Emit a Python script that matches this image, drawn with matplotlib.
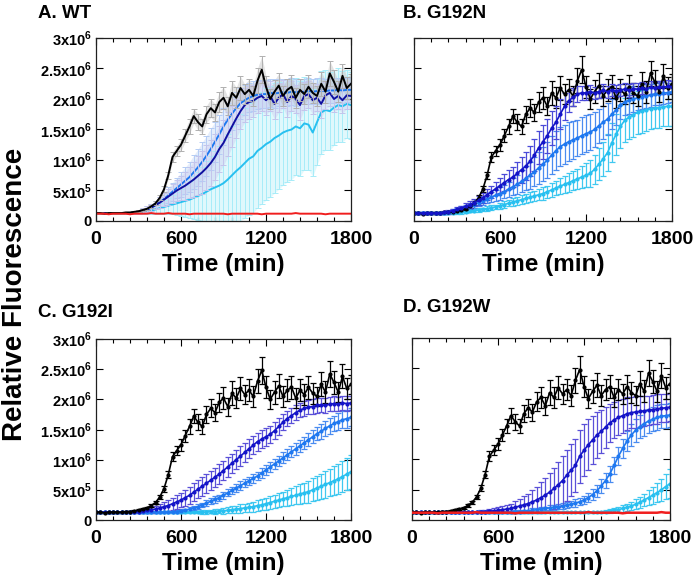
import numpy as np
import matplotlib.pyplot as plt
from matplotlib.ticker import MultipleLocator

plt.rcParams['font.family'] = ['Liberation Sans', 'DejaVu Sans']
plt.rcParams['font.weight'] = 'bold'
plt.rcParams['mathtext.fontset'] = 'custom'
plt.rcParams['mathtext.rm'] = 'Liberation Sans:bold'
plt.rcParams['mathtext.bf'] = 'Liberation Sans:bold'

# time axis (min), one reading every 30 min
time = np.arange(0, 1801, 30)

# fluorescence values in units of 1e6
wt = [0.13, 0.13, 0.12, 0.13, 0.13, 0.13, 0.13, 0.14, 0.14, 0.15,
      0.16, 0.18, 0.20, 0.24, 0.29, 0.38, 0.52, 0.75, 1.05, 1.15,
      1.25, 1.40, 1.55, 1.72, 1.62, 1.55, 1.75, 1.85, 1.78, 1.95,
      2.02, 1.88, 2.10, 2.02, 2.18, 2.08, 2.15, 2.05, 2.30, 2.48,
      2.20, 2.00, 2.12, 2.22, 2.05, 2.15, 2.20, 2.02, 2.15, 2.08,
      2.20, 2.10, 2.05, 2.25, 2.12, 2.42, 2.28, 2.12, 2.38, 2.18, 2.25]
wt_err = [0.01, 0.01, 0.01, 0.01, 0.01, 0.01, 0.01, 0.01, 0.01, 0.01,
          0.02, 0.02, 0.02, 0.03, 0.03, 0.04, 0.05, 0.06, 0.08, 0.08,
          0.10, 0.10, 0.12, 0.12, 0.13, 0.12, 0.14, 0.15, 0.14, 0.16,
          0.18, 0.15, 0.20, 0.17, 0.19, 0.16, 0.18, 0.17, 0.20, 0.22,
          0.18, 0.16, 0.19, 0.20, 0.17, 0.18, 0.19, 0.16, 0.18, 0.17,
          0.19, 0.17, 0.16, 0.20, 0.18, 0.21, 0.19, 0.17, 0.20, 0.18, 0.16]

# panel A
a_dark = [0.13, 0.13, 0.13, 0.13, 0.13, 0.13, 0.13, 0.13, 0.13, 0.14,
          0.15, 0.17, 0.19, 0.22, 0.26, 0.30, 0.35, 0.40, 0.45, 0.50,
          0.54, 0.58, 0.63, 0.68, 0.74, 0.80, 0.87, 0.95, 1.05, 1.18,
          1.28, 1.42, 1.55, 1.68, 1.80, 1.90, 1.95, 1.97, 2.02, 2.05,
          1.98, 2.05, 1.92, 2.02, 2.08, 1.95, 2.05, 2.00, 1.90, 2.05,
          2.08, 1.98, 2.02, 1.92, 2.06, 2.10, 2.00, 2.05, 1.98, 2.06, 2.05]
a_dark_err = [0.01, 0.01, 0.01, 0.01, 0.01, 0.01, 0.01, 0.01, 0.02, 0.02,
              0.03, 0.04, 0.05, 0.06, 0.07, 0.09, 0.11, 0.13, 0.15, 0.18,
              0.20, 0.23, 0.26, 0.29, 0.32, 0.35, 0.37, 0.38, 0.38, 0.38,
              0.37, 0.36, 0.34, 0.32, 0.30, 0.28, 0.27, 0.26, 0.25, 0.25,
              0.24, 0.24, 0.25, 0.24, 0.23, 0.24, 0.24, 0.23, 0.24, 0.23,
              0.22, 0.23, 0.22, 0.23, 0.22, 0.22, 0.21, 0.22, 0.21, 0.22, 0.21]
a_mid = [0.13, 0.13, 0.13, 0.13, 0.13, 0.13, 0.13, 0.13, 0.13, 0.14,
         0.15, 0.17, 0.19, 0.22, 0.26, 0.31, 0.36, 0.42, 0.48, 0.54,
         0.60, 0.66, 0.72, 0.80, 0.88, 0.97, 1.07, 1.18, 1.30, 1.42,
         1.55, 1.66, 1.76, 1.85, 1.93, 1.98, 2.02, 2.05, 2.07, 2.08,
         2.08, 2.10, 2.09, 2.10, 2.11, 2.10, 2.12, 2.11, 2.12, 2.12,
         2.13, 2.12, 2.13, 2.14, 2.13, 2.14, 2.14, 2.15, 2.14, 2.15, 2.15]
a_mid_err = [0.01, 0.01, 0.01, 0.01, 0.01, 0.01, 0.01, 0.01, 0.02, 0.02,
             0.03, 0.04, 0.05, 0.06, 0.07, 0.09, 0.11, 0.13, 0.15, 0.17,
             0.20, 0.22, 0.25, 0.28, 0.30, 0.32, 0.33, 0.34, 0.33, 0.32,
             0.30, 0.28, 0.27, 0.26, 0.25, 0.25, 0.24, 0.24, 0.24, 0.23,
             0.23, 0.23, 0.23, 0.22, 0.22, 0.22, 0.22, 0.22, 0.21, 0.21,
             0.21, 0.21, 0.21, 0.20, 0.20, 0.20, 0.20, 0.20, 0.20, 0.20, 0.20]
a_cyan = [0.13, 0.13, 0.13, 0.13, 0.13, 0.13, 0.13, 0.13, 0.13, 0.13,
          0.14, 0.15, 0.16, 0.17, 0.19, 0.21, 0.23, 0.25, 0.27, 0.29,
          0.31, 0.33, 0.35, 0.38, 0.41, 0.44, 0.48, 0.52, 0.55, 0.58,
          0.62, 0.68, 0.75, 0.82, 0.88, 0.95, 1.02, 1.06, 1.15, 1.20,
          1.26, 1.30, 1.36, 1.40, 1.45, 1.48, 1.50, 1.55, 1.52, 1.60,
          1.58, 1.45, 1.62, 1.78, 1.82, 1.80, 1.86, 1.90, 1.88, 1.92, 1.90]
a_cyan_err = [0.01, 0.01, 0.01, 0.01, 0.01, 0.01, 0.01, 0.01, 0.02, 0.02,
              0.03, 0.04, 0.05, 0.06, 0.07, 0.09, 0.11, 0.13, 0.16, 0.19,
              0.22, 0.26, 0.30, 0.35, 0.40, 0.45, 0.50, 0.55, 0.60, 0.65,
              0.70, 0.75, 0.80, 0.85, 0.88, 0.90, 0.92, 0.93, 0.93, 0.92,
              0.92, 0.91, 0.90, 0.88, 0.86, 0.84, 0.82, 0.80, 0.78, 0.76,
              0.74, 0.72, 0.70, 0.68, 0.66, 0.64, 0.62, 0.60, 0.58, 0.56, 0.55]
a_red = [0.12, 0.12, 0.12, 0.11, 0.12, 0.12, 0.12, 0.12, 0.11, 0.12,
         0.12, 0.12, 0.12, 0.13, 0.12, 0.12, 0.12, 0.13, 0.12, 0.12,
         0.12, 0.12, 0.11, 0.12, 0.12, 0.12, 0.12, 0.12, 0.12, 0.12,
         0.12, 0.11, 0.12, 0.12, 0.12, 0.12, 0.12, 0.12, 0.12, 0.11,
         0.12, 0.12, 0.12, 0.12, 0.12, 0.12, 0.12, 0.13, 0.12, 0.12,
         0.12, 0.12, 0.12, 0.12, 0.11, 0.12, 0.12, 0.12, 0.12, 0.12, 0.12]

# panel B
b_dark = [0.13, 0.13, 0.13, 0.13, 0.13, 0.13, 0.13, 0.14, 0.15, 0.17,
          0.19, 0.21, 0.24, 0.27, 0.30, 0.34, 0.38, 0.43, 0.48, 0.53,
          0.58, 0.63, 0.68, 0.72, 0.78, 0.84, 0.90, 0.98, 1.08, 1.20,
          1.30, 1.40, 1.52, 1.62, 1.75, 1.88, 1.97, 2.03, 2.08, 2.10,
          2.10, 2.12, 2.10, 2.12, 2.14, 2.12, 2.15, 2.13, 2.15, 2.16,
          2.14, 2.17, 2.16, 2.18, 2.17, 2.19, 2.18, 2.20, 2.19, 2.21, 2.20]
b_dark_err = [0.01, 0.01, 0.01, 0.01, 0.01, 0.01, 0.02, 0.02, 0.03, 0.03,
              0.04, 0.04, 0.05, 0.05, 0.06, 0.07, 0.08, 0.09, 0.10, 0.11,
              0.12, 0.14, 0.15, 0.17, 0.19, 0.21, 0.23, 0.25, 0.26, 0.27,
              0.28, 0.28, 0.28, 0.27, 0.25, 0.22, 0.18, 0.15, 0.13, 0.12,
              0.11, 0.11, 0.10, 0.10, 0.10, 0.10, 0.10, 0.10, 0.10, 0.10,
              0.10, 0.10, 0.10, 0.10, 0.10, 0.10, 0.10, 0.10, 0.10, 0.10, 0.10]
b_mid = [0.13, 0.13, 0.13, 0.13, 0.13, 0.13, 0.13, 0.13, 0.14, 0.16,
         0.18, 0.20, 0.22, 0.25, 0.27, 0.30, 0.33, 0.36, 0.39, 0.42,
         0.45, 0.48, 0.52, 0.56, 0.60, 0.65, 0.70, 0.75, 0.81, 0.87,
         0.93, 1.00, 1.08, 1.15, 1.22, 1.26, 1.30, 1.33, 1.36, 1.40,
         1.43, 1.46, 1.50, 1.56, 1.62, 1.67, 1.75, 1.82, 1.90, 1.95,
         1.98, 2.00, 2.02, 2.04, 2.05, 2.06, 2.08, 2.08, 2.10, 2.10, 2.12]
b_mid_err = [0.01, 0.01, 0.01, 0.01, 0.01, 0.01, 0.01, 0.02, 0.02, 0.03,
             0.03, 0.04, 0.04, 0.05, 0.05, 0.06, 0.06, 0.07, 0.08, 0.09,
             0.10, 0.11, 0.12, 0.14, 0.16, 0.18, 0.20, 0.22, 0.24, 0.26,
             0.28, 0.30, 0.31, 0.32, 0.32, 0.32, 0.32, 0.31, 0.30, 0.30,
             0.30, 0.29, 0.28, 0.28, 0.27, 0.26, 0.25, 0.24, 0.23, 0.22,
             0.22, 0.21, 0.20, 0.20, 0.19, 0.19, 0.18, 0.18, 0.18, 0.17, 0.17]
b_cyan = [0.13, 0.13, 0.13, 0.13, 0.13, 0.13, 0.13, 0.13, 0.13, 0.13,
          0.14, 0.14, 0.15, 0.16, 0.17, 0.18, 0.19, 0.20, 0.22, 0.23,
          0.25, 0.27, 0.29, 0.31, 0.33, 0.35, 0.37, 0.39, 0.41, 0.43,
          0.45, 0.48, 0.51, 0.54, 0.57, 0.60, 0.63, 0.66, 0.69, 0.72,
          0.75, 0.78, 0.85, 0.93, 1.02, 1.12, 1.28, 1.42, 1.55, 1.65,
          1.70, 1.74, 1.78, 1.80, 1.82, 1.84, 1.85, 1.86, 1.87, 1.88, 1.88]
b_cyan_err = [0.01, 0.01, 0.01, 0.01, 0.01, 0.01, 0.01, 0.01, 0.01, 0.01,
              0.02, 0.02, 0.02, 0.02, 0.03, 0.03, 0.03, 0.04, 0.04, 0.04,
              0.05, 0.05, 0.05, 0.06, 0.06, 0.07, 0.07, 0.08, 0.08, 0.09,
              0.10, 0.10, 0.11, 0.12, 0.13, 0.14, 0.15, 0.16, 0.17, 0.18,
              0.20, 0.22, 0.24, 0.26, 0.28, 0.30, 0.32, 0.34, 0.35, 0.36,
              0.36, 0.36, 0.35, 0.35, 0.34, 0.34, 0.33, 0.33, 0.32, 0.32, 0.32]

# panel C
c_dark = [0.13, 0.13, 0.13, 0.13, 0.13, 0.13, 0.13, 0.13, 0.13, 0.13,
          0.14, 0.15, 0.16, 0.17, 0.18, 0.20, 0.22, 0.24, 0.27, 0.30,
          0.33, 0.37, 0.41, 0.46, 0.51, 0.56, 0.61, 0.66, 0.71, 0.76,
          0.82, 0.88, 0.94, 1.00, 1.06, 1.12, 1.18, 1.24, 1.30, 1.34,
          1.38, 1.42, 1.48, 1.55, 1.62, 1.68, 1.73, 1.78, 1.82, 1.85,
          1.87, 1.88, 1.90, 1.91, 1.90, 1.92, 1.93, 1.92, 1.94, 1.93, 1.94]
c_dark_err = [0.01, 0.01, 0.01, 0.01, 0.01, 0.01, 0.01, 0.01, 0.02, 0.02,
              0.03, 0.03, 0.04, 0.05, 0.06, 0.07, 0.08, 0.09, 0.10, 0.11,
              0.12, 0.13, 0.14, 0.15, 0.15, 0.16, 0.16, 0.16, 0.16, 0.16,
              0.16, 0.16, 0.16, 0.16, 0.16, 0.16, 0.16, 0.15, 0.15, 0.15,
              0.15, 0.14, 0.14, 0.14, 0.13, 0.13, 0.13, 0.12, 0.12, 0.12,
              0.12, 0.12, 0.12, 0.12, 0.12, 0.12, 0.12, 0.12, 0.12, 0.12, 0.12]
c_mid = [0.13, 0.13, 0.13, 0.13, 0.13, 0.13, 0.13, 0.13, 0.13, 0.13,
         0.13, 0.13, 0.13, 0.13, 0.13, 0.13, 0.13, 0.13, 0.13, 0.14,
         0.15, 0.16, 0.18, 0.20, 0.22, 0.25, 0.28, 0.31, 0.34, 0.37,
         0.41, 0.45, 0.49, 0.53, 0.57, 0.61, 0.65, 0.69, 0.73, 0.78,
         0.83, 0.88, 0.93, 0.98, 1.03, 1.08, 1.13, 1.18, 1.23, 1.28,
         1.33, 1.38, 1.43, 1.47, 1.52, 1.56, 1.60, 1.63, 1.66, 1.68, 1.70]
c_mid_err = [0.01, 0.01, 0.01, 0.01, 0.01, 0.01, 0.01, 0.01, 0.01, 0.01,
             0.01, 0.01, 0.01, 0.01, 0.01, 0.01, 0.02, 0.02, 0.02, 0.02,
             0.03, 0.03, 0.03, 0.04, 0.04, 0.04, 0.05, 0.05, 0.05, 0.05,
             0.06, 0.06, 0.06, 0.06, 0.07, 0.07, 0.07, 0.07, 0.07, 0.08,
             0.08, 0.08, 0.08, 0.08, 0.09, 0.09, 0.09, 0.10, 0.10, 0.10,
             0.11, 0.11, 0.11, 0.12, 0.12, 0.13, 0.13, 0.14, 0.14, 0.15, 0.15]
c_cyan = [0.13, 0.13, 0.13, 0.13, 0.13, 0.13, 0.13, 0.13, 0.13, 0.13,
          0.13, 0.13, 0.13, 0.13, 0.13, 0.13, 0.13, 0.13, 0.13, 0.13,
          0.13, 0.13, 0.13, 0.13, 0.13, 0.13, 0.13, 0.14, 0.14, 0.15,
          0.15, 0.16, 0.17, 0.18, 0.19, 0.20, 0.21, 0.22, 0.24, 0.25,
          0.27, 0.29, 0.31, 0.33, 0.35, 0.37, 0.39, 0.41, 0.43, 0.45,
          0.47, 0.50, 0.53, 0.56, 0.59, 0.62, 0.65, 0.68, 0.72, 0.76, 0.80]
c_cyan_err = [0.01, 0.01, 0.01, 0.01, 0.01, 0.01, 0.01, 0.01, 0.01, 0.01,
              0.01, 0.01, 0.01, 0.01, 0.01, 0.01, 0.01, 0.01, 0.01, 0.01,
              0.02, 0.02, 0.02, 0.02, 0.02, 0.03, 0.03, 0.03, 0.04, 0.04,
              0.05, 0.05, 0.06, 0.06, 0.07, 0.07, 0.08, 0.08, 0.09, 0.09,
              0.10, 0.10, 0.11, 0.11, 0.12, 0.13, 0.14, 0.15, 0.16, 0.17,
              0.18, 0.19, 0.20, 0.21, 0.22, 0.23, 0.24, 0.25, 0.26, 0.27, 0.28]

# panel D
d_dark = [0.13, 0.13, 0.13, 0.13, 0.13, 0.13, 0.13, 0.13, 0.13, 0.13,
          0.13, 0.13, 0.13, 0.13, 0.13, 0.13, 0.14, 0.14, 0.15, 0.15,
          0.16, 0.17, 0.18, 0.19, 0.21, 0.23, 0.25, 0.27, 0.30, 0.33,
          0.37, 0.41, 0.46, 0.52, 0.58, 0.65, 0.74, 0.82, 0.90, 1.05,
          1.15, 1.24, 1.32, 1.40, 1.46, 1.53, 1.60, 1.65, 1.69, 1.72,
          1.75, 1.77, 1.78, 1.79, 1.80, 1.81, 1.82, 1.83, 1.84, 1.85, 1.86]
d_dark_err = [0.01, 0.01, 0.01, 0.01, 0.01, 0.01, 0.01, 0.01, 0.01, 0.01,
              0.01, 0.01, 0.01, 0.01, 0.01, 0.02, 0.02, 0.03, 0.03, 0.04,
              0.05, 0.06, 0.07, 0.08, 0.10, 0.12, 0.14, 0.16, 0.19, 0.22,
              0.25, 0.28, 0.31, 0.34, 0.37, 0.40, 0.42, 0.43, 0.44, 0.44,
              0.43, 0.42, 0.40, 0.38, 0.36, 0.34, 0.32, 0.30, 0.29, 0.28,
              0.27, 0.26, 0.26, 0.25, 0.25, 0.24, 0.24, 0.24, 0.23, 0.23, 0.23]
d_mid = [0.13, 0.13, 0.13, 0.13, 0.13, 0.13, 0.13, 0.13, 0.13, 0.13,
         0.13, 0.13, 0.13, 0.13, 0.13, 0.13, 0.13, 0.13, 0.13, 0.13,
         0.13, 0.13, 0.13, 0.13, 0.14, 0.14, 0.15, 0.15, 0.16, 0.17,
         0.18, 0.19, 0.20, 0.21, 0.22, 0.23, 0.25, 0.26, 0.28, 0.30,
         0.33, 0.37, 0.42, 0.48, 0.56, 0.65, 0.76, 0.90, 1.05, 1.18,
         1.30, 1.40, 1.48, 1.54, 1.59, 1.63, 1.66, 1.69, 1.71, 1.72, 1.73]
d_mid_err = [0.01, 0.01, 0.01, 0.01, 0.01, 0.01, 0.01, 0.01, 0.01, 0.01,
             0.01, 0.01, 0.01, 0.01, 0.01, 0.01, 0.01, 0.01, 0.01, 0.01,
             0.01, 0.01, 0.02, 0.02, 0.02, 0.02, 0.02, 0.02, 0.03, 0.03,
             0.03, 0.03, 0.04, 0.04, 0.04, 0.05, 0.05, 0.05, 0.06, 0.06,
             0.07, 0.08, 0.09, 0.10, 0.11, 0.12, 0.13, 0.14, 0.15, 0.16,
             0.17, 0.18, 0.19, 0.19, 0.20, 0.20, 0.20, 0.20, 0.20, 0.20, 0.20]
d_cyan = [0.13, 0.13, 0.13, 0.13, 0.13, 0.13, 0.13, 0.13, 0.13, 0.13,
          0.13, 0.13, 0.13, 0.13, 0.13, 0.13, 0.13, 0.13, 0.13, 0.13,
          0.13, 0.13, 0.13, 0.13, 0.13, 0.13, 0.13, 0.13, 0.13, 0.13,
          0.13, 0.13, 0.13, 0.13, 0.13, 0.13, 0.13, 0.13, 0.13, 0.13,
          0.13, 0.13, 0.13, 0.13, 0.13, 0.14, 0.15, 0.16, 0.17, 0.19,
          0.21, 0.23, 0.26, 0.29, 0.33, 0.37, 0.41, 0.45, 0.50, 0.55, 0.60]
d_cyan_err = [0.01, 0.01, 0.01, 0.01, 0.01, 0.01, 0.01, 0.01, 0.01, 0.01,
              0.01, 0.01, 0.01, 0.01, 0.01, 0.01, 0.01, 0.01, 0.01, 0.01,
              0.01, 0.01, 0.01, 0.01, 0.01, 0.01, 0.01, 0.01, 0.01, 0.01,
              0.01, 0.01, 0.01, 0.01, 0.01, 0.01, 0.01, 0.01, 0.01, 0.01,
              0.01, 0.01, 0.01, 0.01, 0.02, 0.02, 0.03, 0.03, 0.04, 0.05,
              0.06, 0.07, 0.08, 0.09, 0.10, 0.12, 0.14, 0.16, 0.18, 0.21, 0.24]
d_red = [0.12, 0.12, 0.12, 0.12, 0.12, 0.12, 0.11, 0.12, 0.12, 0.12,
         0.12, 0.12, 0.12, 0.12, 0.12, 0.13, 0.12, 0.12, 0.12, 0.12,
         0.12, 0.12, 0.12, 0.12, 0.11, 0.12, 0.12, 0.12, 0.12, 0.12,
         0.12, 0.12, 0.12, 0.12, 0.12, 0.12, 0.12, 0.12, 0.12, 0.12,
         0.12, 0.13, 0.12, 0.12, 0.12, 0.12, 0.12, 0.12, 0.12, 0.11,
         0.12, 0.12, 0.12, 0.12, 0.12, 0.12, 0.12, 0.12, 0.13, 0.12, 0.12]

titles = ['A. WT', 'B. G192N', 'C. G192I', 'D. G192W']
ytick_vals = [0, 0.5e6, 1e6, 1.5e6, 2e6, 2.5e6, 3e6]
ytick_text = ['0', r'5x10$^{5}$', r'1x10$^{6}$', r'1.5x10$^{6}$',
              r'2x10$^{6}$', r'2.5x10$^{6}$', r'3x10$^{6}$']

BLACK = '#000000'
DARK = '#1414c8'
MID = '#1e78f0'
CYAN = '#28c0f0'
RED = '#f01e1e'

fig = plt.figure(figsize=(6.93, 5.78), dpi=100)
W, H = 693.0, 578.0
boxes = [(96, 38, 351, 221), (414, 38, 672, 221),
         (96, 339, 351, 520), (412, 338, 670, 520)]
title_pos = [(38, 13), (403, 13), (38, 312), (403, 308)]
axes = []
for (x0, y0, x1, y1) in boxes:
    axes.append(fig.add_axes([x0 / W, 1 - y1 / H, (x1 - x0) / W, (y1 - y0) / H]))

t = time


def scaled(v):
    return np.array(v) * 1e6


def style(ax, ylab=True):
    ax.set_xlim(0, 1800)
    ax.set_ylim(0, 3e6)
    ax.set_xticks([0, 600, 1200, 1800])
    ax.xaxis.set_minor_locator(MultipleLocator(120))
    ax.set_yticks(ytick_vals)
    if ylab:
        ax.set_yticklabels(ytick_text, fontsize=10.5, fontweight='bold')
    else:
        ax.set_yticklabels([])
    ax.set_xticklabels(['0', '600', '1200', '1800'], fontsize=14, fontweight='bold')
    ax.tick_params(which='both', direction='in', top=True, right=True, width=0.8)
    ax.tick_params(axis='x', which='major', length=5, pad=7)
    ax.tick_params(axis='y', which='major', length=5, pad=3)
    ax.tick_params(which='minor', length=3)
    ax.set_xlabel('Time (min)', fontsize=17.5, fontweight='bold', labelpad=4)
    for s in ax.spines.values():
        s.set_linewidth(0.9)
        s.set_color('#202020')


def band(ax, y, e, color, line_color, lw=1.4):
    y = scaled(y)
    e = scaled(e)
    ax.fill_between(t, y - e, y + e, color=color, alpha=0.35, lw=0)
    ax.errorbar(t, y, yerr=e, fmt='none', ecolor=color, elinewidth=0.7,
                capsize=2, capthick=0.7)
    ax.plot(t, y, color=line_color, lw=lw)


def bars(ax, y, e, color, ecolor, zorder=2):
    ax.errorbar(t, scaled(y), yerr=scaled(e), fmt='-o', color=color, ecolor=ecolor,
                ms=2, lw=1.2, elinewidth=0.9, capsize=2.5, capthick=0.9, zorder=zorder)


# A
ax = axes[0]
band(ax, a_cyan, a_cyan_err, '#a8ecf8', CYAN)
band(ax, a_mid, a_mid_err, '#b4ccf4', MID)
band(ax, a_dark, a_dark_err, '#c4c4ec', '#1010a0')
band(ax, wt, wt_err, '#b0b0b0', BLACK)
ax.plot(t, scaled(a_red), color=RED, lw=1.4)
style(ax)

# B
ax = axes[1]
bars(ax, b_cyan, b_cyan_err, CYAN, '#40c8f0')
bars(ax, b_mid, b_mid_err, MID, '#4a8cf0')
bars(ax, wt, wt_err, BLACK, BLACK)
bars(ax, b_dark, b_dark_err, DARK, '#4a4ad8')
style(ax, ylab=False)

# C
ax = axes[2]
bars(ax, c_cyan, c_cyan_err, CYAN, '#40c8f0')
bars(ax, c_mid, c_mid_err, MID, '#4a8cf0')
bars(ax, c_dark, c_dark_err, DARK, '#5a50d8')
bars(ax, wt, wt_err, BLACK, BLACK)
style(ax)

# D
ax = axes[3]
bars(ax, d_cyan, d_cyan_err, CYAN, '#40c8f0')
bars(ax, d_mid, d_mid_err, MID, '#4a8cf0')
bars(ax, d_dark, d_dark_err, DARK, '#5a50d8')
bars(ax, wt, wt_err, BLACK, BLACK)
ax.plot(t, scaled(d_red), color=RED, lw=1.8, zorder=5)
style(ax, ylab=False)

for (tx, ty), title in zip(title_pos, titles):
    fig.text(tx / W, 1 - ty / H, title, fontsize=13.5, fontweight='bold',
             ha='left', va='center')

fig.text(0.022, 0.49, 'Relative Fluorescence', rotation=90, fontsize=20,
         fontweight='bold', ha='center', va='center')

fig.savefig('out.png', dpi=100)
